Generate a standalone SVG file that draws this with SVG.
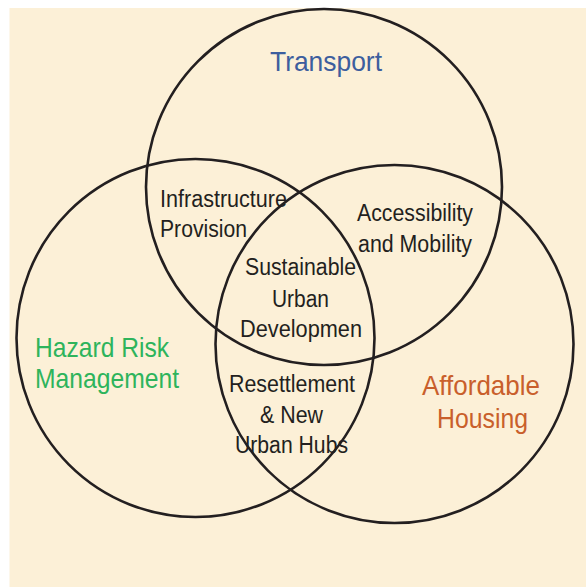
<svg xmlns="http://www.w3.org/2000/svg" width="586" height="587" viewBox="0 0 586 587">
<style>
.ring{fill:none;stroke:#231f20;stroke-width:2.6}
.t{font-family:"Liberation Sans Narrow","Liberation Sans",Arial,sans-serif}
.in{font-size:23px;fill:#231f20}
.big{font-size:28px}
</style>
<rect x="0" y="0" width="586" height="587" fill="#ffffff"/>
<rect x="9.5" y="8" width="577" height="579" fill="#fcf0d7"/>
<g id="connectors"/>
<g id="transport">
<circle class="ring" cx="324" cy="187" r="178"/>
<text class="t big" x="270" y="71" fill="#3d5e9e" textLength="112" lengthAdjust="spacingAndGlyphs">Transport</text>
</g>
<g id="hazard">
<circle class="ring" cx="195.5" cy="338" r="179"/>
<text class="t big" fill="#2eb45c"><tspan x="35" y="357" textLength="134" lengthAdjust="spacingAndGlyphs">Hazard Risk</tspan><tspan x="35" y="388" textLength="144" lengthAdjust="spacingAndGlyphs">Management</tspan></text>
</g>
<g id="housing">
<circle class="ring" cx="394.5" cy="344" r="179"/>
<text class="t big" fill="#c95f2b"><tspan x="422" y="395" textLength="118" lengthAdjust="spacingAndGlyphs">Affordable</tspan><tspan x="437" y="428" textLength="91" lengthAdjust="spacingAndGlyphs">Housing</tspan></text>
</g>
<g id="infrastructure">
<text class="t in"><tspan x="160" y="207" textLength="127" lengthAdjust="spacingAndGlyphs">Infrastructure</tspan><tspan x="160" y="237" textLength="87" lengthAdjust="spacingAndGlyphs">Provision</tspan></text>
</g>
<g id="accessibility">
<text class="t in"><tspan x="357" y="221" textLength="116" lengthAdjust="spacingAndGlyphs">Accessibility</tspan><tspan x="358" y="252" textLength="114" lengthAdjust="spacingAndGlyphs">and Mobility</tspan></text>
</g>
<g id="sustainable">
<text class="t in"><tspan x="245" y="275" textLength="111" lengthAdjust="spacingAndGlyphs">Sustainable</tspan><tspan x="272" y="307" textLength="57" lengthAdjust="spacingAndGlyphs">Urban</tspan><tspan x="240" y="337" textLength="122" lengthAdjust="spacingAndGlyphs">Developmen</tspan></text>
</g>
<g id="resettlement">
<text class="t in"><tspan x="229" y="392" textLength="126" lengthAdjust="spacingAndGlyphs">Resettlement</tspan><tspan x="260" y="423" textLength="63" lengthAdjust="spacingAndGlyphs">&amp; New</tspan><tspan x="235" y="453" textLength="113" lengthAdjust="spacingAndGlyphs">Urban Hubs</tspan></text>
</g>
</svg>
